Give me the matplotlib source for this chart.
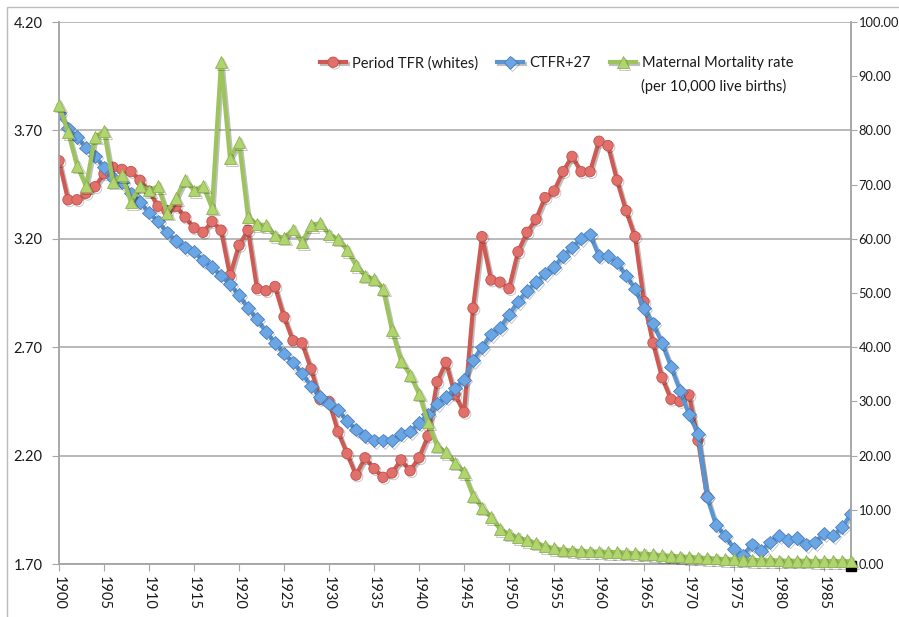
import matplotlib
matplotlib.use("Agg")
import matplotlib.pyplot as plt
import matplotlib.patheffects as pe
from matplotlib.patches import Rectangle

# ---------------- data ----------------
years_tfr = list(range(1900, 1973))
period_tfr = [3.56, 3.38, 3.38, 3.41, 3.44, 3.50, 3.53, 3.52, 3.51, 3.47,
              3.42, 3.35, 3.33, 3.35, 3.30, 3.25, 3.23, 3.28, 3.24, 3.03,
              3.17, 3.24, 2.97, 2.96, 2.98, 2.84, 2.73, 2.72, 2.60, 2.46,
              2.45, 2.31, 2.21, 2.11, 2.19, 2.14, 2.10, 2.12, 2.18, 2.13,
              2.19, 2.29, 2.54, 2.63, 2.48, 2.40, 2.88, 3.21, 3.01, 3.00,
              2.97, 3.14, 3.23, 3.29, 3.39, 3.42, 3.51, 3.58, 3.51, 3.51,
              3.65, 3.63, 3.47, 3.33, 3.21, 2.91, 2.72, 2.56, 2.46, 2.45,
              2.48, 2.27, 2.01]

years = list(range(1900, 1989))
ctfr27 = [3.78, 3.71, 3.67, 3.62, 3.58, 3.53, 3.48, 3.46, 3.41, 3.37,
          3.32, 3.28, 3.23, 3.19, 3.16, 3.14, 3.10, 3.07, 3.03, 2.99,
          2.94, 2.88, 2.83, 2.77, 2.72, 2.67, 2.63, 2.58, 2.52, 2.47,
          2.44, 2.41, 2.36, 2.32, 2.29, 2.27, 2.27, 2.27, 2.30, 2.31,
          2.35, 2.39, 2.44, 2.47, 2.51, 2.55, 2.64, 2.70, 2.76, 2.79,
          2.85, 2.91, 2.96, 3.00, 3.04, 3.07, 3.12, 3.16, 3.20, 3.22,
          3.12, 3.12, 3.09, 3.03, 2.97, 2.88, 2.81, 2.72, 2.61, 2.50,
          2.39, 2.30, 2.01, 1.88, 1.83, 1.77, 1.74, 1.79, 1.76, 1.80,
          1.83, 1.81, 1.82, 1.79, 1.80, 1.84, 1.83, 1.87, 1.93]

maternal = [84.7, 79.7, 73.5, 69.7, 78.8, 79.9, 70.5, 71.7, 66.7, 69.8,
            68.9, 69.7, 64.8, 67.5, 70.9, 68.9, 69.8, 65.7, 92.6, 74.8,
            77.8, 64.0, 62.7, 62.5, 60.6, 60.2, 61.7, 59.4, 62.5, 62.9,
            60.8, 60.0, 57.9, 55.1, 53.2, 52.6, 50.8, 43.1, 37.5, 34.9,
            31.4, 26.1, 21.8, 20.6, 18.7, 16.9, 12.6, 10.4, 8.6, 6.4,
            5.6, 4.9, 4.4, 3.9, 3.3, 2.9, 2.6, 2.5, 2.4, 2.3,
            2.3, 2.2, 2.2, 2.1, 2.0, 1.9, 1.8, 1.6, 1.5, 1.4,
            1.3, 1.2, 1.1, 1.0, 0.9, 0.85, 0.8, 0.75, 0.7, 0.7,
            0.65, 0.6, 0.6, 0.6, 0.55, 0.55, 0.55, 0.5, 0.5]

# small dark mark seen at the end of the right axis
black_mark_year = [1988]
black_mark_value = [-0.4]

left_ticks = [1.70, 2.20, 2.70, 3.20, 3.70, 4.20]
right_ticks = list(range(0, 101, 10))
x_ticks = list(range(1900, 1986, 5))

label_red = "Period TFR (whites)"
label_blue = "CTFR+27"
label_green = "Maternal Mortality rate"
label_green2 = "(per 10,000 live births)"

# ---------------- style ----------------
plt.rcParams['font.family'] = ['Lato', 'DejaVu Sans']
RED_L, RED_M, RED_E = '#CF5A53', '#E2706A', '#C0504D'
BLU_L, BLU_M, BLU_E = '#5A95D3', '#6AA6E3', '#4A7FBF'
GRN_L, GRN_M, GRN_E = '#9DC45C', '#B0D46E', '#8DB24F'
GRID = '#A6A6A6'
TXT = '#1a1a1a'

fig = plt.figure(figsize=(8.99, 6.17), dpi=100)
ax = fig.add_axes([59/899, 53/617, 792/899, 542/617])
ax2 = ax.twinx()

shadow = [pe.SimpleLineShadow(offset=(1.2, -1.2), alpha=0.25, shadow_color='black'), pe.Normal()]

ax.plot(years_tfr, period_tfr, color=RED_L, lw=3.0, marker='o', ms=7.5,
        mfc=RED_M, mec=RED_E, mew=0.6, zorder=3, path_effects=shadow, label=label_red)
ax.plot(years, ctfr27, color=BLU_L, lw=3.0, marker='D', ms=6.8,
        mfc=BLU_M, mec=BLU_E, mew=0.6, zorder=4, path_effects=shadow, label=label_blue)
ax2.plot(black_mark_year, black_mark_value, ls='none', marker='s', ms=7, color='black',
         zorder=4, clip_on=False)
ax2.plot(years, maternal, color=GRN_L, lw=3.0, marker='^', ms=8.5,
         mfc=GRN_M, mec=GRN_E, mew=0.6, zorder=5, path_effects=shadow, label=label_green,
         clip_on=False)

# axes ranges
ax.set_xlim(1900, 1988)
ax.set_ylim(1.70, 4.20)
ax2.set_ylim(0, 100)

ax.set_yticks(left_ticks)
ax.set_yticklabels([f"{v:.2f}" for v in left_ticks])
ax2.set_yticks(right_ticks)
ax2.set_yticklabels([f"{v:.2f}" for v in right_ticks])
ax.set_xticks(x_ticks)
ax.set_xticklabels([str(y) for y in x_ticks], rotation=270)

ax.grid(axis='y', color=GRID, lw=1.1)
ax.set_axisbelow(True)

for a in (ax, ax2):
    a.spines['top'].set_visible(False)
    for s in ('left', 'right', 'bottom'):
        a.spines[s].set_color(GRID)
        a.spines[s].set_linewidth(1.1)

ax.tick_params(axis='y', length=5, color=GRID, labelsize=10.5, pad=7, labelcolor=TXT)
ax2.tick_params(axis='y', length=4, color=GRID, labelsize=9.3, pad=1.5, labelcolor=TXT)
ax.tick_params(axis='x', which='major', length=5, color=GRID, labelsize=10.5, pad=4, labelcolor=TXT)

# legend
h1, l1 = ax.get_legend_handles_labels()
h2, l2 = ax2.get_legend_handles_labels()
leg = fig.legend(h1 + h2, l1 + l2, loc='upper left', bbox_to_anchor=(320/899, 1 - 56/617),
                 ncol=3, frameon=False, fontsize=10.5, handlelength=1.8,
                 handletextpad=0.4, columnspacing=1.3, borderaxespad=0, borderpad=0,
                 labelcolor=TXT)
fig.text(641/899, 1 - 86/617, label_green2, fontsize=10.5, va='center', ha='left', color=TXT)

# outer frame (left and top edges visible; right/bottom beyond the image)
fig.patches.append(Rectangle((7/899, -0.05), 1.0, 1.05 - 7/617, transform=fig.transFigure,
                             fill=False, edgecolor='#BBBBBB', lw=1.0))

fig.savefig("out.png", dpi=100)
